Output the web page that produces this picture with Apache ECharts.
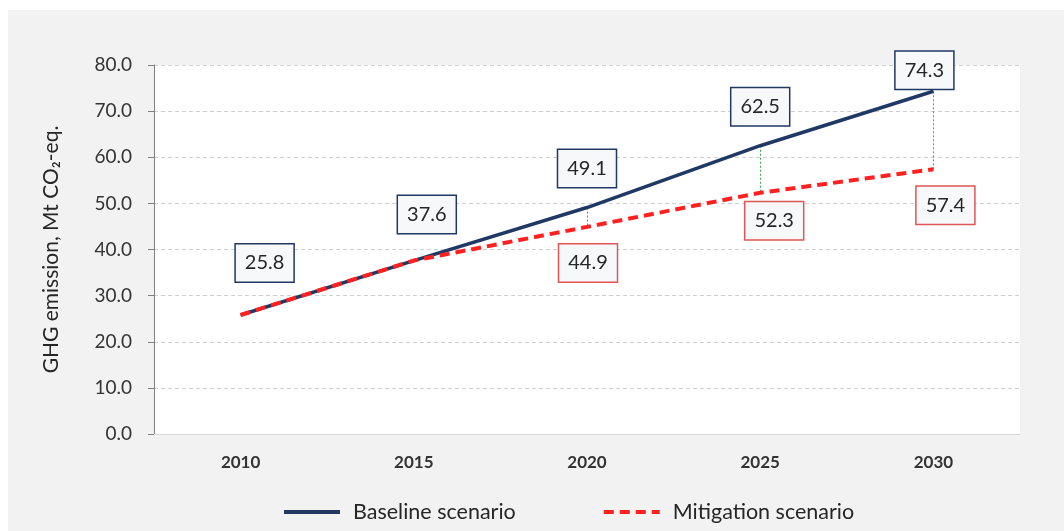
<!DOCTYPE html>
<html>
<head>
<meta charset="utf-8">
<script src="https://cdn.jsdelivr.net/npm/echarts@6/dist/echarts.min.js"></script>
<style>
html,body{margin:0;padding:0;background:#ffffff;}
#chart{width:1064px;height:531px;}
</style>
</head>
<body>
<div id="chart"></div>
<script>
const categories = ['2010', '2015', '2020', '2025', '2030'];
const baseline = [25.8, 37.6, 49.1, 62.5, 74.3];
const mitigation = [25.8, 37.6, 44.9, 52.3, 57.4];
const seriesNames = ['Baseline scenario', 'Mitigation scenario'];
const yAxisTitle = 'GHG emission, Mt CO\u2082-eq.';

// label placement styling (offsets in px relative to each point)
const baselineLabelOffsets = [[24, -52], [13, -46], [0, -39], [0, -39], [-9, -21]];
const mitigationLabelOffsets = [null, null, [1, 36], [14, 28], [12, 36]];

const FONT = 'Lato, "Open Sans", sans-serif';
const chart = echarts.init(document.getElementById('chart'));

function boxLabel(offset, border) {
  return {
    show: true,
    position: 'inside',
    offset: offset,
    formatter: p => Number(p.value).toFixed(1),
    fontFamily: FONT,
    fontSize: 20,
    color: '#262626',
    backgroundColor: '#f7f8fa',
    borderColor: border,
    borderWidth: 1.5,
    padding: [9, 9, 8, 9]
  };
}

const baseData = baseline.map((v, i) => ({
  value: v,
  label: boxLabel(baselineLabelOffsets[i], '#1f3864')
}));
const mitData = mitigation.map((v, i) => {
  const o = mitigationLabelOffsets[i];
  return o ? { value: v, label: boxLabel(o, '#e05555') } : { value: v, label: { show: false } };
});

const dropLines = [];
categories.forEach((c, i) => {
  if (baseline[i] !== mitigation[i]) {
    dropLines.push([{ coord: [c, baseline[i]] }, { coord: [c, mitigation[i]] }]);
  }
});

chart.setOption({
  animation: false,
  backgroundColor: 'transparent',
  graphic: [{
    type: 'rect',
    z: -10,
    silent: true,
    shape: { x: 8, y: 10, width: 1064, height: 531 },
    style: { fill: '#f2f2f2' }
  }],
  grid: {
    left: 154, right: 44, top: 65, bottom: 97,
    show: true, backgroundColor: '#ffffff', borderWidth: 0
  },
  legend: {
    top: 496,
    left: 277,
    itemGap: 86,
    itemWidth: 56,
    itemHeight: 14,
    itemStyle: { opacity: 0 },
    lineStyle: { width: 4 },
    textStyle: { fontFamily: FONT, fontSize: 21.5, color: '#262626', padding: [0, 0, 0, 8] },
    data: seriesNames
  },
  xAxis: {
    type: 'category',
    data: categories,
    boundaryGap: true,
    axisLine: { show: true, lineStyle: { color: '#d9d9d9', width: 1 } },
    axisTick: { show: false },
    axisLabel: { margin: 20, fontFamily: FONT, fontSize: 17, fontWeight: 'bold', color: '#333333' }
  },
  yAxis: {
    type: 'value',
    min: 0, max: 80, interval: 10,
    name: yAxisTitle,
    nameLocation: 'middle',
    nameGap: 92,
    nameTextStyle: { fontFamily: FONT, fontSize: 21, color: '#262626' },
    axisLine: { show: true, lineStyle: { color: '#7f7f7f', width: 1 } },
    axisTick: { show: true, length: 6, lineStyle: { color: '#7f7f7f' } },
    axisLabel: { margin: 22, formatter: v => v.toFixed(1), fontFamily: FONT, fontSize: 19, color: '#333333' },
    splitLine: { show: true, lineStyle: { color: '#d0d0d0', type: [4, 3], width: 1 } }
  },
  series: [
    {
      name: seriesNames[0],
      type: 'line',
      data: baseData,
      showSymbol: true,
      symbol: 'circle',
      symbolSize: 0.5,
      itemStyle: { color: '#1f3864' },
      lineStyle: { color: '#1f3864', width: 3.5 },
      z: 3
    },
    {
      name: seriesNames[1],
      type: 'line',
      data: mitData,
      showSymbol: true,
      symbol: 'circle',
      symbolSize: 0.5,
      itemStyle: { color: '#ff2020' },
      lineStyle: { color: '#ff2020', width: 4, type: [10, 6] },
      z: 4,
      markLine: {
        silent: true,
        symbol: ['none', 'none'],
        label: { show: false },
        lineStyle: { color: '#3aa35c', width: 1, type: [2, 2] },
        data: dropLines,
        z: 2
      }
    }
  ]
});
</script>
</body>
</html>
